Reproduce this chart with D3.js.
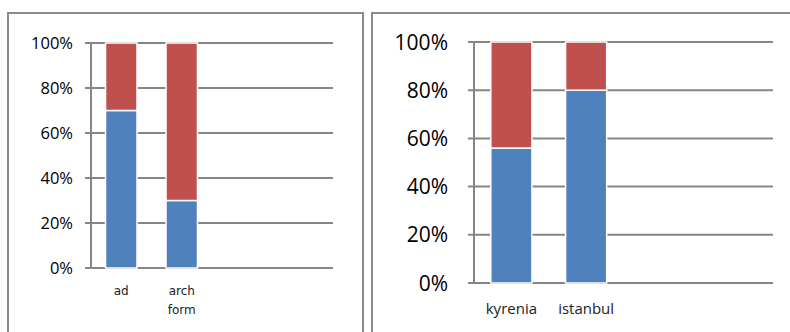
<!DOCTYPE html>
<html>
<head>
<meta charset="utf-8">
<script src="https://cdn.jsdelivr.net/npm/d3@7"></script>
<style>
  body { margin: 0; background: #fff; }
  svg { display: block; }
</style>
</head>
<body>
<div id="chart"></div>
<script>
// left chart
const leftCategories = ["ad", "arch form"];
const leftBlue = [0.70, 0.30];
const leftRed = [0.30, 0.70];

// right chart
const rightCategories = ["kyrenia", "istanbul"];
const rightBlue = [0.56, 0.80];
const rightRed = [0.44, 0.20];

const yTicks = [0, 0.2, 0.4, 0.6, 0.8, 1];
const slots = 4; // both charts leave room for four categories

const blue = "#4f81bd";
const red = "#c0504d";
const gridColor = "#868686";

const svg = d3.select("#chart")
  .append("svg")
  .attr("width", 790)
  .attr("height", 332);

// panel frames
svg.append("path")
  .attr("d", "M8,332 V13 H363 V332")
  .attr("fill", "none")
  .attr("stroke", "#8c8c8c")
  .attr("stroke-width", 2);
svg.append("path")
  .attr("d", "M372,332 V13 H790")
  .attr("fill", "none")
  .attr("stroke", "#8c8c8c")
  .attr("stroke-width", 2);

function drawChart(opts) {
  const g = svg.append("g");

  const x = d3.scaleBand()
    .domain(d3.range(slots))
    .range([opts.left, opts.right])
    .paddingInner(opts.pad)
    .paddingOuter(opts.pad / 2);

  const y = d3.scaleLinear()
    .domain([0, 1])
    .range([opts.bottom, opts.top]);

  // gridlines incl. the small tick to the left of the axis
  g.selectAll("line.grid")
    .data(yTicks)
    .enter().append("line")
    .attr("class", "grid")
    .attr("x1", opts.left - 6)
    .attr("x2", opts.right)
    .attr("y1", d => y(d))
    .attr("y2", d => y(d))
    .attr("stroke", gridColor)
    .attr("stroke-width", 2);

  // y axis line
  g.append("line")
    .attr("x1", opts.left)
    .attr("x2", opts.left)
    .attr("y1", y(1))
    .attr("y2", y(0))
    .attr("stroke", gridColor)
    .attr("stroke-width", 2);

  // tick labels
  g.selectAll("text.ytick")
    .data(yTicks)
    .enter().append("text")
    .attr("class", "ytick")
    .attr("x", opts.labelX)
    .attr("y", d => y(d))
    .attr("dy", "0.36em")
    .attr("text-anchor", "end")
    .attr("font-family", "Open Sans, sans-serif")
    .attr("font-size", opts.tickSize)
    .attr("fill", "#000")
    .text(d3.format(".0%"));

  const rows = opts.categories.map((c, i) => ({ i, c, b: opts.blue[i], r: opts.red[i] }));

  // blue segment
  g.selectAll("rect.blue")
    .data(rows)
    .enter().append("rect")
    .attr("x", d => x(d.i))
    .attr("width", x.bandwidth())
    .attr("y", d => y(d.b))
    .attr("height", d => y(0) - y(d.b))
    .attr("fill", blue)
    .attr("stroke", "#fff")
    .attr("stroke-width", 1.5);

  // red segment stacked on top
  g.selectAll("rect.red")
    .data(rows)
    .enter().append("rect")
    .attr("x", d => x(d.i))
    .attr("width", x.bandwidth())
    .attr("y", d => y(d.b + d.r))
    .attr("height", d => y(d.b) - y(d.b + d.r))
    .attr("fill", red)
    .attr("stroke", "#fff")
    .attr("stroke-width", 1.5);

  // category labels, split on spaces when asked
  const lbl = g.selectAll("text.cat")
    .data(rows)
    .enter().append("text")
    .attr("class", "cat")
    .attr("x", d => x(d.i) + x.bandwidth() / 2)
    .attr("y", opts.catY)
    .attr("text-anchor", "middle")
    .attr("font-family", opts.catFont)
    .attr("font-size", opts.catSize)
    .attr("fill", "#222");
  lbl.each(function (d) {
    const parts = opts.wrap ? d.c.split(" ") : [d.c];
    d3.select(this).selectAll("tspan")
      .data(parts)
      .enter().append("tspan")
      .attr("x", x(d.i) + x.bandwidth() / 2)
      .attr("dy", (p, k) => k === 0 ? 0 : opts.catLine)
      .text(p => p);
  });
}

drawChart({
  categories: leftCategories, blue: leftBlue, red: leftRed,
  left: 91, right: 333, top: 43, bottom: 268, pad: 0.48,
  labelX: 73, tickSize: 16.5,
  catY: 295, catLine: 19, catSize: 12, catFont: "DejaVu Sans, sans-serif", wrap: true
});

drawChart({
  categories: rightCategories, blue: rightBlue, red: rightRed,
  left: 474, right: 773, top: 42, bottom: 283, pad: 0.45,
  labelX: 448, tickSize: 21,
  catY: 314, catLine: 18, catSize: 15, catFont: "Open Sans, sans-serif", wrap: false
});
</script>
</body>
</html>
